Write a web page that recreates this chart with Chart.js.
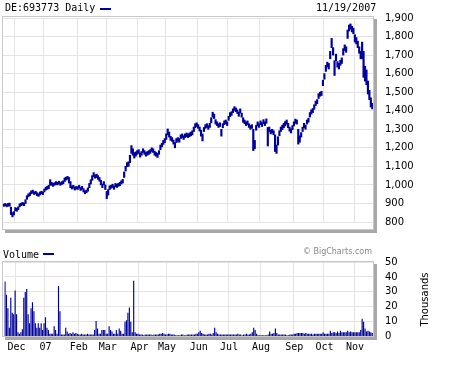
<!DOCTYPE html>
<html>
<head>
<meta charset="utf-8">
<script src="https://cdn.jsdelivr.net/npm/chart.js@4.4.1/dist/chart.umd.min.js"></script>
<style>
  body { margin: 0; background: #fff; }
  #wrap { position: relative; width: 452px; height: 366px; overflow: hidden; background: #fff; }
  canvas { position: absolute; left: 0; }
  .txt { position: absolute; white-space: nowrap; line-height: 12px; color: #000; }
  .mono { font: 10px "DejaVu Sans Mono", monospace; }
  .dash { position: absolute; height: 2px; background: #00009c; }
  .frame { position: absolute; box-sizing: border-box; border: 1px solid #c8c8c8; box-shadow: 3px 3px 0 #a8a8a8; pointer-events: none; }
</style>
</head>
<body>
<div id="wrap">
  <canvas id="priceChart" width="452" height="240" style="top:0"></canvas>
  <canvas id="volumeChart" width="452" height="126" style="top:240px"></canvas>
  <div class="frame" style="left:2px; top:16px; width:372px; height:214px"></div>
  <div class="frame" style="left:2px; top:261px; width:372px; height:76px"></div>

  <div class="txt mono" style="left:5px; top:2px">DE:693773 Daily</div>
  <div class="dash" style="left:100px; top:8px; width:11px"></div>
  <div class="txt mono" style="left:316px; top:2px">11/19/2007</div>

  <div class="txt mono" style="left:3px; top:249px">Volume</div>
  <div class="dash" style="left:43px; top:253px; width:11px"></div>
  <div class="txt" style="right:80px; top:247px; font:8px 'DejaVu Sans'; color:#8a8a8a">© BigCharts.com</div>
  <div class="txt" style="left:394px; top:294px; width:60px; text-align:center; font:10px 'DejaVu Sans'; transform:rotate(-90deg)">Thousands</div>
</div>

<script>
// month boundaries (index of first trading day) and their labels
const monthStart = [8, 28, 51, 71, 93, 112, 134, 155, 177, 200, 221, 242];
const monthLabels = ['Dec', '07', 'Feb', 'Mar', 'Apr', 'May', 'Jun', 'Jul', 'Aug', 'Sep', 'Oct', 'Nov'];

// daily low / high, Nov 2006 .. 11/19/2007
const priceLow = [
  884, 888, 882, 886, 885, 840, 828, 838, 860, 858,
  866, 882, 888, 892, 888, 900, 922, 936, 942, 952,
  956, 948, 952, 942, 938, 946, 952, 948, 962, 972,
  976, 980, 998, 998, 992, 998, 1002, 1000, 1005, 998,
  1002, 1006, 1018, 1026, 1030, 1010, 985, 978, 982, 972,
  978, 975, 982, 970, 976, 962, 952, 958, 966, 985,
  1005, 1025, 1045, 1036, 1040, 1030, 1020, 1000, 985, 1000,
  975, 926, 945, 975, 982, 986, 976, 990, 986, 992,
  996, 1005, 1010, 1040, 1075, 1098, 1100, 1120, 1170, 1160,
  1145, 1155, 1165, 1170, 1150, 1160, 1175, 1165, 1155, 1160,
  1165, 1170, 1180, 1175, 1160, 1155, 1148, 1165, 1190, 1205,
  1218, 1228, 1245, 1270, 1258, 1240, 1235, 1220, 1200, 1228,
  1235, 1230, 1250, 1255, 1245, 1255, 1260, 1255, 1260, 1265,
  1270, 1288, 1308, 1315, 1305, 1290, 1263, 1237, 1288, 1305,
  1310, 1300, 1310, 1335, 1365, 1358, 1328, 1320, 1310, 1315,
  1263, 1308, 1325, 1330, 1320, 1348, 1368, 1375, 1390, 1402,
  1395, 1385, 1370, 1388, 1365, 1338, 1330, 1320, 1325, 1310,
  1300, 1305, 1185, 1195, 1295, 1318, 1310, 1325, 1315, 1330,
  1320, 1332, 1210, 1288, 1275, 1280, 1270, 1180, 1170, 1215,
  1265, 1288, 1298, 1308, 1318, 1328, 1308, 1290, 1280, 1298,
  1318, 1332, 1328, 1220, 1230, 1258, 1288, 1308, 1300, 1328,
  1338, 1366, 1382, 1390, 1408, 1428, 1438, 1466, 1478, 1482,
  1535, 1570, 1612, 1636, 1625, 1680, 1740, 1700, 1590, 1670,
  1635, 1625, 1645, 1655, 1700, 1725, 1715, 1790, 1830, 1840,
  1825, 1815, 1770, 1760, 1740, 1710, 1680, 1680, 1580, 1560,
  1540, 1490, 1460, 1420, 1410
];
const priceHigh = [
  896, 900, 895, 900, 902, 880, 850, 856, 878, 874,
  882, 898, 902, 906, 902, 920, 942, 952, 958, 968,
  972, 962, 966, 958, 952, 962, 966, 962, 978, 988,
  992, 998, 1028, 1014, 1008, 1012, 1018, 1014, 1020, 1012,
  1018, 1022, 1038, 1042, 1046, 1040, 1018, 994, 998, 988,
  992, 990, 998, 986, 992, 980, 968, 972, 984, 1008,
  1028, 1050, 1066, 1054, 1058, 1050, 1040, 1025, 1005, 1018,
  1000, 965, 975, 995, 998, 1004, 994, 1008, 1004, 1008,
  1014, 1022, 1030, 1070, 1100, 1120, 1125, 1160, 1212, 1195,
  1175, 1178, 1185, 1190, 1172, 1180, 1195, 1185, 1175, 1180,
  1185, 1190, 1200, 1195, 1182, 1175, 1170, 1185, 1215, 1225,
  1240, 1250, 1275, 1302, 1285, 1262, 1255, 1242, 1228, 1250,
  1255, 1250, 1270, 1275, 1265, 1275, 1280, 1275, 1280, 1285,
  1292, 1312, 1330, 1335, 1325, 1312, 1295, 1275, 1310, 1325,
  1330, 1320, 1332, 1362, 1392, 1382, 1352, 1340, 1330, 1335,
  1300, 1330, 1345, 1350, 1340, 1370, 1390, 1395, 1410, 1422,
  1415, 1405, 1392, 1410, 1387, 1362, 1350, 1340, 1345, 1330,
  1320, 1325, 1300, 1240, 1322, 1340, 1330, 1345, 1335, 1352,
  1340, 1356, 1310, 1312, 1295, 1300, 1292, 1270, 1215, 1260,
  1292, 1312, 1322, 1332, 1342, 1350, 1332, 1312, 1302, 1320,
  1340, 1355, 1350, 1300, 1265, 1282, 1312, 1332, 1322, 1350,
  1360, 1390, 1405, 1412, 1432, 1452, 1460, 1492, 1500, 1505,
  1565, 1600, 1645, 1662, 1655, 1720, 1790, 1740, 1670, 1705,
  1665, 1655, 1672, 1685, 1735, 1755, 1745, 1835, 1862, 1868,
  1855, 1845, 1810, 1795, 1775, 1745, 1720, 1770, 1720, 1640,
  1620, 1560, 1510, 1470, 1440
];

// daily volume, thousands
const volume = [
  37, 28, 19, 6, 26, 16, 15, 31, 15, 3,
  2, 3, 5, 26, 30, 32, 15, 9, 19, 23,
  17, 9, 6, 9, 6, 9, 4.5, 9, 13, 6,
  4.5, 2, 2, 2, 7, 4.5, 2, 34, 17, 1.5,
  1.5, 1.5, 6, 3.5, 2, 2.5, 2, 3, 2, 2.5,
  2, 1.5, 1.5, 2, 1.5, 1.5, 1.5, 2, 1.5, 1.5,
  1.5, 1.5, 4.5, 10.5, 5.5, 2, 2, 4.5, 4.5, 4.5,
  2, 2, 7, 4.5, 3.5, 2, 2, 4.5, 2, 5.5,
  4, 2, 2, 10, 11, 16, 19.5, 10, 3, 37.5,
  3, 2, 2, 1.5, 1.5, 1.5, 1, 1.5, 1.5, 1.5,
  1.5, 1.5, 1, 1.5, 1.5, 1.5, 1.5, 2, 2, 2.5,
  2, 1.5, 1.5, 2, 2, 1.5, 1.5, 1.5, 1, 1,
  1, 1, 1.5, 1.5, 1, 1, 1.5, 1.5, 1.5, 1.5,
  1.5, 1.5, 2, 2, 3, 4, 2.5, 2, 1.5, 1.5,
  1.5, 2, 2, 1.5, 2.5, 6, 3, 2, 1.5, 1.5,
  1.5, 1.5, 1.5, 1.5, 1.5, 1.5, 1.5, 1.5, 1.5, 1.5,
  1.5, 2, 1.5, 1.5, 1, 1.5, 1.5, 2, 1.5, 1.5,
  2, 3, 6, 4.5, 2, 1, 1, 1, 1, 1,
  1, 1, 1.5, 3.5, 2, 2, 2.5, 5.5, 2.5, 1.5,
  1.5, 1.5, 1.5, 1.5, 1.5, 1, 1, 1.5, 1.5, 1.5,
  2, 2, 2.5, 2.5, 2.5, 2.5, 2.5, 2, 2.5, 2,
  2, 2, 2, 1.5, 2, 2, 2, 2, 2, 2,
  3, 2, 2, 2, 2, 4, 2.5, 3, 3, 2.5,
  3.5, 2.5, 4, 3, 3, 3, 3, 4, 3, 3.5,
  3, 3, 3, 3, 3, 3, 4.5, 12, 10, 5.5,
  3.5, 4, 3.5, 3, 2.5
];

const NAVY = '#00009c';
const GRID = '#e4e4e4';
const days = priceLow.map((_, i) => i);

const monthGrid = (ctx) => (monthStart.includes(ctx.index) ? GRID : 'rgba(0,0,0,0)');

const renderPriceChart = () => {
  new Chart(document.getElementById('priceChart'), {
    type: 'bar',
    data: {
      labels: days,
      datasets: [{
        label: 'DE:693773 Daily',
        data: priceLow.map((lo, i) => [lo, priceHigh[i]]),
        backgroundColor: NAVY,
        barPercentage: 1,
        categoryPercentage: 1,
        barThickness: 1.5
      }]
    },
    options: {
      responsive: false,
      animation: false,
      layout: { padding: { left: 3, top: 17, right: 0, bottom: 0 } },
      plugins: { legend: { display: false }, tooltip: { enabled: false } },
      scales: {
        x: {
          type: 'category',
          grid: { offset: true, color: monthGrid, drawTicks: false },
          border: { display: false },
          ticks: { display: false, autoSkip: false },
          afterFit: (s) => { s.height = 10.5; }
        },
        y: {
          position: 'right',
          min: 800,
          max: 1900,
          ticks: { stepSize: 100, autoSkip: false, padding: 12, color: '#000', font: { family: 'DejaVu Sans', size: 10 } },
          grid: { color: GRID, drawTicks: false },
          border: { display: false },
          afterFit: (s) => { s.width = 79; }
        }
      }
    }
  });
};

const renderVolumeChart = () => {
  new Chart(document.getElementById('volumeChart'), {
    type: 'bar',
    data: {
      labels: days,
      datasets: [{
        label: 'Volume',
        data: volume,
        backgroundColor: NAVY,
        barPercentage: 0.8,
        categoryPercentage: 1
      }]
    },
    options: {
      responsive: false,
      animation: false,
      layout: { padding: { left: 3, top: 22, right: 0, bottom: 0 } },
      plugins: { legend: { display: false }, tooltip: { enabled: false } },
      scales: {
        x: {
          type: 'category',
          grid: { offset: true, color: monthGrid, drawTicks: false },
          border: { display: false },
          ticks: {
            autoSkip: false,
            maxRotation: 0,
            minRotation: 0,
            padding: 5,
            color: '#000',
            font: { family: 'DejaVu Sans Mono', size: 10 },
            callback: (val, i) => {
              const k = monthStart.indexOf(i);
              return k >= 0 ? monthLabels[k] : '';
            }
          },
          afterFit: (s) => { s.height = 29.3; }
        },
        y: {
          position: 'right',
          min: 0,
          max: 50,
          ticks: { stepSize: 10, autoSkip: false, padding: 12, color: '#000', font: { family: 'DejaVu Sans', size: 10 } },
          grid: { color: GRID, drawTicks: false },
          border: { display: false },
          afterFit: (s) => { s.width = 79; }
        }
      }
    }
  });
};

renderPriceChart();
renderVolumeChart();
</script>
</body>
</html>
